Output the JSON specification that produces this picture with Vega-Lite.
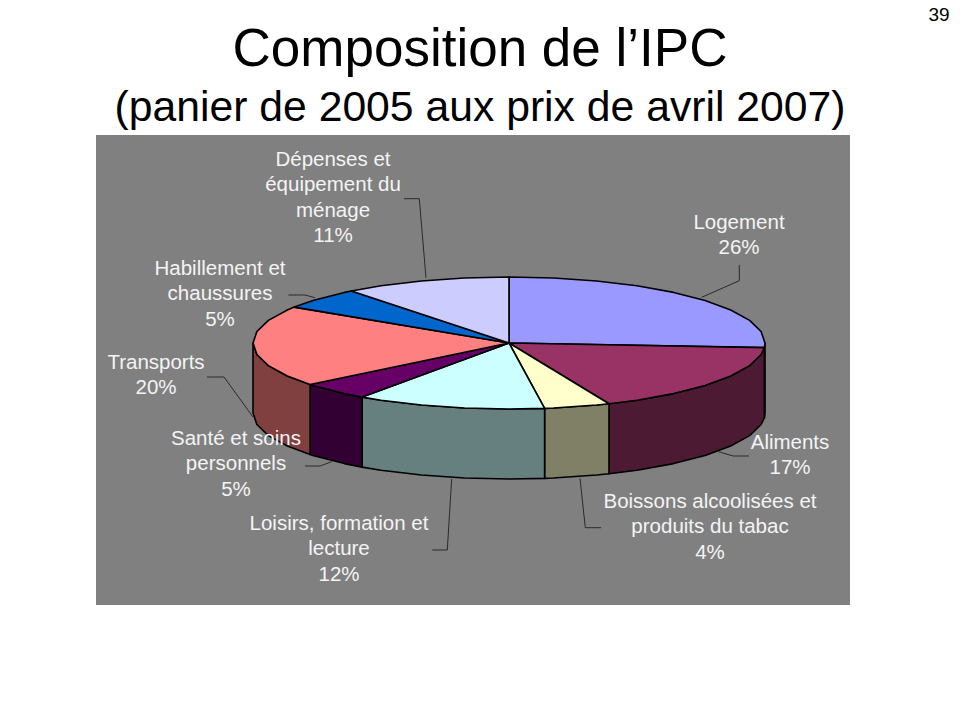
{
  "$schema": "https://vega.github.io/schema/vega-lite/v6.json",
  "width": 754,
  "height": 470,
  "autosize": "none",
  "padding": {"left": 96, "top": 135, "right": 110, "bottom": 115},
  "background": "#ffffff",
  "view": {"fill": "#808080", "stroke": null},
  "title": {
    "text": "Composition de l’IPC",
    "subtitle": "(panier de 2005 aux prix de avril 2007)",
    "anchor": "middle",
    "frame": "group",
    "dx": 7,
    "offset": -124,
    "font": "Liberation Sans",
    "fontSize": 53,
    "fontWeight": "normal",
    "color": "#000000",
    "subtitleFont": "Liberation Sans",
    "subtitleFontSize": 42.7,
    "subtitleColor": "#000000",
    "subtitlePadding": 10
  },
  "projection": {"type": "identity", "reflectY": true, "scale": 1, "translate": [413, 208]},
  "layer": [
    {
      "data": {"values": [
        {"type": "Feature", "properties": {"face": "Logement côté", "share": 26}, "geometry": {"type": "Polygon", "coordinates": [[[256,0],[255.4,-4.6],[255.4,-74.6],[256,-70],[256,0]]]}},
        {"type": "Feature", "properties": {"face": "Aliments côté", "share": 17}, "geometry": {"type": "Polygon", "coordinates": [[[255.4,-4.6],[252.1,-11.5],[240.6,-22.6],[221.7,-33],[196.1,-42.4],[164.6,-50.6],[128,-57.2],[100,-60.8],[100,-130.8],[128,-127.2],[164.6,-120.6],[196.1,-112.4],[221.7,-103],[240.6,-92.6],[252.1,-81.5],[255.4,-74.6],[255.4,-4.6]]]}},
        {"type": "Feature", "properties": {"face": "Boissons côté", "share": 4}, "geometry": {"type": "Polygon", "coordinates": [[[100,-60.8],[87.6,-62],[44.5,-65],[35.6,-65.4],[35.6,-135.4],[44.5,-135],[87.6,-132],[100,-130.8],[100,-60.8]]]}},
        {"type": "Feature", "properties": {"face": "Loisirs côté", "share": 12}, "geometry": {"type": "Polygon", "coordinates": [[[35.6,-65.4],[0,-66],[-44.5,-65],[-87.6,-62],[-128,-57.2],[-146.8,-54.1],[-146.8,-124.1],[-128,-127.2],[-87.6,-132],[-44.5,-135],[0,-136],[35.6,-135.4],[35.6,-65.4]]]}},
        {"type": "Feature", "properties": {"face": "Santé côté", "share": 5}, "geometry": {"type": "Polygon", "coordinates": [[[-146.8,-54.1],[-164.6,-50.6],[-196.1,-42.4],[-198.9,-41.5],[-198.9,-111.5],[-196.1,-112.4],[-164.6,-120.6],[-146.8,-124.1],[-146.8,-54.1]]]}},
        {"type": "Feature", "properties": {"face": "Transports côté", "share": 20}, "geometry": {"type": "Polygon", "coordinates": [[[-198.9,-41.5],[-221.7,-33],[-240.6,-22.6],[-252.1,-11.5],[-256,0],[-256,-70],[-252.1,-81.5],[-240.6,-92.6],[-221.7,-103],[-198.9,-111.5],[-198.9,-41.5]]]}},
        {"type": "Feature", "properties": {"face": "Logement", "share": 26}, "geometry": {"type": "Polygon", "coordinates": [[[0,0],[0,66],[44.5,65],[87.6,62],[128,57.2],[164.6,50.6],[196.1,42.4],[221.7,33],[240.6,22.6],[252.1,11.5],[256,0],[255.4,-4.6],[0,0]]]}},
        {"type": "Feature", "properties": {"face": "Aliments", "share": 17}, "geometry": {"type": "Polygon", "coordinates": [[[0,0],[255.4,-4.6],[252.1,-11.5],[240.6,-22.6],[221.7,-33],[196.1,-42.4],[164.6,-50.6],[128,-57.2],[100,-60.8],[0,0]]]}},
        {"type": "Feature", "properties": {"face": "Boissons", "share": 4}, "geometry": {"type": "Polygon", "coordinates": [[[0,0],[100,-60.8],[87.6,-62],[44.5,-65],[35.6,-65.4],[0,0]]]}},
        {"type": "Feature", "properties": {"face": "Loisirs", "share": 12}, "geometry": {"type": "Polygon", "coordinates": [[[0,0],[35.6,-65.4],[0,-66],[-44.5,-65],[-87.6,-62],[-128,-57.2],[-146.8,-54.1],[0,0]]]}},
        {"type": "Feature", "properties": {"face": "Santé", "share": 5}, "geometry": {"type": "Polygon", "coordinates": [[[0,0],[-146.8,-54.1],[-164.6,-50.6],[-196.1,-42.4],[-198.9,-41.5],[0,0]]]}},
        {"type": "Feature", "properties": {"face": "Transports", "share": 20}, "geometry": {"type": "Polygon", "coordinates": [[[0,0],[-198.9,-41.5],[-221.7,-33],[-240.6,-22.6],[-252.1,-11.5],[-256,0],[-252.1,11.5],[-240.6,22.6],[-221.7,33],[-214.7,35.9],[0,0]]]}},
        {"type": "Feature", "properties": {"face": "Habillement", "share": 5}, "geometry": {"type": "Polygon", "coordinates": [[[0,0],[-214.7,35.9],[-196.1,42.4],[-164.6,50.6],[-157.6,52],[0,0]]]}},
        {"type": "Feature", "properties": {"face": "Dépenses", "share": 11}, "geometry": {"type": "Polygon", "coordinates": [[[0,0],[-157.6,52],[-128,57.2],[-87.6,62],[-44.5,65],[0,66],[0,0]]]}}
      ]},
      "mark": {"type": "geoshape", "stroke": "#000000", "strokeWidth": 1.6, "strokeJoin": "round"},
      "encoding": {
        "fill": {
          "field": "properties.face",
          "type": "nominal",
          "legend": null,
          "scale": {
            "domain": ["Logement", "Aliments", "Boissons", "Loisirs", "Santé", "Transports", "Habillement", "Dépenses", "Logement côté", "Aliments côté", "Boissons côté", "Loisirs côté", "Santé côté", "Transports côté"],
            "range": ["#9999ff", "#993366", "#ffffcc", "#ccffff", "#660066", "#ff8080", "#0066cc", "#ccccff", "#4c4c80", "#4c1a33", "#808066", "#668080", "#330033", "#804040"]
          }
        }
      }
    },
    {
      "data": {"values": [
        {"slice": "Dépenses", "seq": 1, "x": -105, "y": 144.3},
        {"slice": "Dépenses", "seq": 2, "x": -89.7, "y": 144.3},
        {"slice": "Dépenses", "seq": 3, "x": -83, "y": 65},
        {"slice": "Logement", "seq": 1, "x": 230.3, "y": 78},
        {"slice": "Logement", "seq": 2, "x": 230.3, "y": 62.3},
        {"slice": "Logement", "seq": 3, "x": 192.7, "y": 45.7},
        {"slice": "Habillement", "seq": 1, "x": -220.7, "y": 48},
        {"slice": "Habillement", "seq": 2, "x": -204, "y": 48},
        {"slice": "Habillement", "seq": 3, "x": -194, "y": 45.3},
        {"slice": "Transports", "seq": 1, "x": -302, "y": -34},
        {"slice": "Transports", "seq": 2, "x": -285, "y": -34},
        {"slice": "Transports", "seq": 3, "x": -256, "y": -74},
        {"slice": "Santé", "seq": 1, "x": -204, "y": -123},
        {"slice": "Santé", "seq": 2, "x": -189, "y": -123},
        {"slice": "Santé", "seq": 3, "x": -177.3, "y": -118.7},
        {"slice": "Loisirs", "seq": 1, "x": -76.7, "y": -207},
        {"slice": "Loisirs", "seq": 2, "x": -61.7, "y": -207},
        {"slice": "Loisirs", "seq": 3, "x": -57.3, "y": -136},
        {"slice": "Boissons", "seq": 1, "x": 92, "y": -184.7},
        {"slice": "Boissons", "seq": 2, "x": 76.3, "y": -184.7},
        {"slice": "Boissons", "seq": 3, "x": 71, "y": -135.3},
        {"slice": "Aliments", "seq": 1, "x": 240, "y": -113},
        {"slice": "Aliments", "seq": 2, "x": 224.3, "y": -113},
        {"slice": "Aliments", "seq": 3, "x": 209.3, "y": -108.7}
      ]},
      "mark": {"type": "line", "color": "#2a2a2a", "strokeWidth": 1},
      "encoding": {
        "longitude": {"field": "x", "type": "quantitative"},
        "latitude": {"field": "y", "type": "quantitative"},
        "detail": {"field": "slice", "type": "nominal"},
        "order": {"field": "seq", "type": "quantitative"}
      }
    },
    {
      "data": {"values": [
        {"label": "Dépenses et\néquipement du\nménage\n11%", "kind": "étiquette", "x": -176, "y": 183},
        {"label": "Logement\n26%", "kind": "étiquette", "x": 230, "y": 120},
        {"label": "Habillement et\nchaussures\n5%", "kind": "étiquette", "x": -289, "y": 74},
        {"label": "Transports\n20%", "kind": "étiquette", "x": -353, "y": -20},
        {"label": "Santé et soins\npersonnels\n5%", "kind": "étiquette", "x": -273, "y": -96},
        {"label": "Loisirs, formation et\nlecture\n12%", "kind": "étiquette", "x": -170, "y": -181},
        {"label": "Boissons alcoolisées et\nproduits du tabac\n4%", "kind": "étiquette", "x": 201, "y": -159},
        {"label": "Aliments\n17%", "kind": "étiquette", "x": 281, "y": -100},
        {"label": "39", "kind": "page", "x": 430, "y": 328}
      ]},
      "mark": {"type": "text", "clip": false, "font": "Liberation Sans", "align": "center", "baseline": "middle", "lineBreak": "\n", "lineHeight": 25.3},
      "encoding": {
        "longitude": {"field": "x", "type": "quantitative"},
        "latitude": {"field": "y", "type": "quantitative"},
        "text": {"field": "label", "type": "nominal"},
        "color": {
          "field": "kind",
          "type": "nominal",
          "legend": null,
          "scale": {"domain": ["étiquette", "page"], "range": ["#f4f4f4", "#000000"]}
        },
        "size": {
          "field": "kind",
          "type": "ordinal",
          "legend": null,
          "scale": {"domain": ["étiquette", "page"], "range": [20.5, 19]}
        }
      }
    }
  ]
}
